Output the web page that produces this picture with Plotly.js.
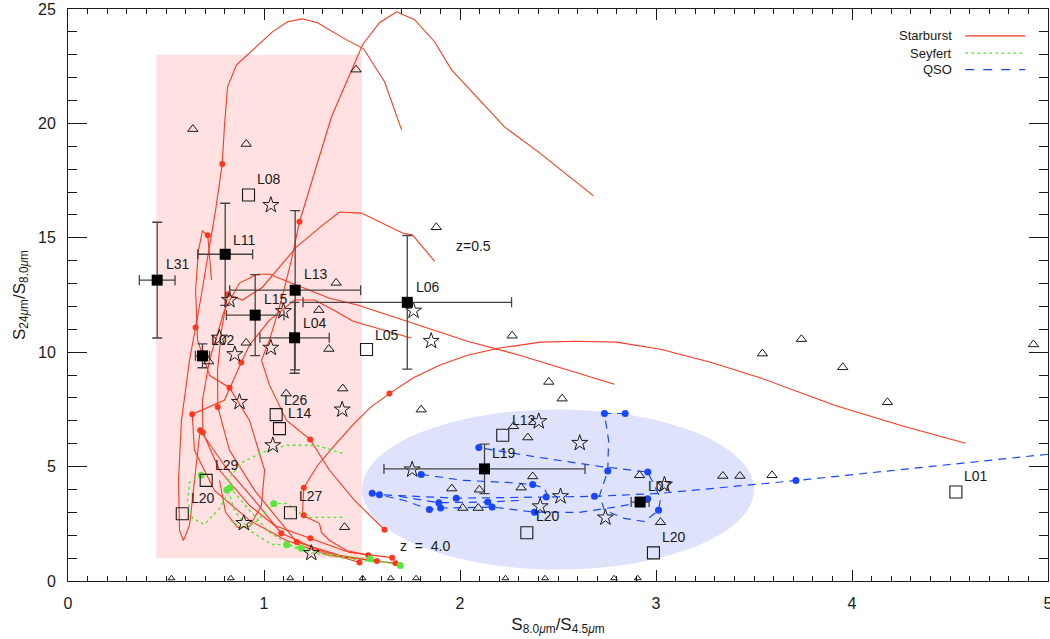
<!DOCTYPE html>
<html>
<head>
<meta charset="utf-8">
<script src="https://cdn.plot.ly/plotly-3.0.1.min.js"></script>
<style>html,body{margin:0;padding:0;background:#fff}#chart{width:1050px;height:639px}</style>
</head>
<body>
<div id="chart"></div>
<script>
// ---------------- data ----------------
// Starburst tracks (z = 0.5 -> 4.0)
const sb1X = [2.681,2.406,2.227,2.048,1.957,1.870,1.768,1.676,1.589,1.503,1.344,1.181,1.140,1.089,1.028,0.987,1.028,1.115,1.236,1.334,1.462,1.615];
const sb1Y = [16.83,18.71,19.85,21.47,22.34,23.57,24.53,24.88,24.40,23.44,20.28,15.69,14.03,12.28,10.53,9.65,8.56,7.02,6.18,4.84,3.52,2.24];
const sb2X = [1.702,1.615,1.508,1.421,1.273,1.196,1.120,1.043,0.860,0.814,0.798,0.787,0.753,0.712,0.676,0.651,0.620,0.579,0.564,0.569,0.589,0.620,0.651,0.674,0.798,0.952,1.088,1.283,1.487];
const sb2Y = [19.72,21.82,23.26,23.65,24.40,24.57,24.44,24.00,22.56,21.60,19.85,18.23,16.21,14.03,12.28,11.09,9.65,7.02,4.40,2.21,1.77,2.43,4.84,6.59,5.05,3.52,2.09,1.33,0.81];
const sb3X = [1.870,1.758,1.707,1.497,1.385,1.293,1.166,1.069,0.992,0.890,0.815,0.783,0.763,0.764,0.824,0.952,1.167,1.385,1.576];
const sb3Y = [13.98,15.12,15.21,16.08,16.13,15.51,14.60,13.59,12.84,12.28,12.53,10.96,9.21,7.61,5.71,3.96,1.70,1.12,0.87];
const sb4X = [2.788,2.304,2.038,1.742,1.477,1.334,1.196,1.028,0.967,0.875,0.798,0.722,0.686,0.688,0.773,0.926,1.054,1.237,1.436,1.654];
const sb4Y = [8.60,9.87,10.48,11.31,12.06,12.36,12.84,13.41,13.41,13.02,11.84,9.65,7.90,6.49,4.84,3.30,2.43,1.87,1.25,1.02];
const sb5X = [1.753,1.452,1.355,1.258,1.156,1.028,0.926,0.884,0.798,0.634,0.645,0.747,0.926,1.115,1.334,1.671];
const sb5Y = [10.61,11.36,11.84,12.28,12.28,11.40,10.31,9.55,7.90,7.29,5.71,3.96,2.65,1.77,1.12,0.77];
const sb6X = [4.579,4.263,3.911,3.538,3.278,3.023,2.798,2.589,2.411,2.202,2.038,1.895,1.758,1.640,1.543,1.452,1.360,1.273,1.203,1.196,1.283,1.293,1.334,1.421,1.532];
const sb6Y = [6.02,6.76,7.68,8.86,9.56,10.13,10.44,10.48,10.44,10.18,9.87,9.43,8.86,8.19,7.59,6.81,5.93,5.05,4.08,2.87,2.52,2.12,1.77,1.33,1.12];
const sb7X = [0.732,0.713,0.686,0.666,0.651,0.661,0.722,0.824,0.926,1.003,0.987,0.926,0.865,0.804,0.773];
const sb7Y = [13.15,15.11,15.30,14.46,12.71,10.53,8.99,8.45,7.02,4.84,3.30,2.39,2.34,3.00,4.40];
const sbDotX = [0.787,1.181,0.713,0.651,0.815,0.884,0.824,1.640,0.764,0.634,0.674,0.688,1.236,1.203,1.203,1.088,1.167,1.237,1.615,1.532,1.576,1.487,1.654,1.671];
const sbDotY = [18.23,15.70,15.11,11.08,12.53,9.55,8.45,8.19,7.61,7.29,6.59,6.49,6.18,4.08,2.87,2.09,1.70,1.87,2.24,1.12,0.87,0.81,1.02,0.78];

// Seyfert tracks
const sy1X = [1.400,1.268,1.115,0.992,0.890,0.824,0.814,0.849,0.926,1.038,1.116,1.190,1.360,1.542,1.695];
const sy1Y = [5.58,5.93,5.93,5.62,5.19,4.53,4.05,3.09,2.21,1.60,1.58,1.44,1.12,0.97,0.68];
const sy2X = [0.680,0.620,0.610,0.635,0.696,0.773,0.828,0.926,1.028,1.181,1.385,1.589];
const sy2Y = [4.62,4.31,3.52,2.74,2.47,3.17,4.08,3.09,2.12,1.33,1.03,0.81];
const sy3X = [1.400,1.215,1.115,1.050,0.952,0.890,0.829];
const sy3Y = [2.78,2.78,3.39,3.38,2.52,2.30,2.65];
const syDotX = [0.680,0.810,0.828,1.050,1.116,1.190,1.542,1.695];
const syDotY = [4.62,3.99,4.08,3.38,1.58,1.44,0.97,0.68];

// QSO tracks
const q1X = [5.0,3.714,3.020,2.686,2.440,1.981,1.589];
const q1Y = [5.54,4.39,3.83,3.70,3.67,3.62,3.77];
const q2X = [2.843,2.737,2.758,2.754,2.712,2.737,2.839,2.941,3.013,3.023,2.958,2.712,2.406,2.096];
const q2Y = [7.32,7.32,6.15,4.81,3.74,3.09,2.74,2.60,3.09,3.61,4.76,5.01,5.40,5.83];
const q3X = [1.802,2.013,2.237,2.371,2.431,2.446];
const q3Y = [4.66,4.40,4.31,4.22,4.05,3.74];
const q4X = [1.552,1.717,1.844,1.901,2.164,2.380,2.610,2.814,2.967];
const q4Y = [3.84,3.52,3.12,3.19,3.23,3.01,3.00,3.26,3.52];
const q5X = [1.691,1.892,2.142,2.304];
const q5Y = [3.70,3.42,3.45,3.52];
const qDotX = [2.737,2.843,2.754,2.958,2.686,2.958,3.013,2.440,2.371,2.096,1.802,1.552,1.589,1.981,1.892,1.901,1.844,2.142,2.164,2.380,3.714];
const qDotY = [7.32,7.32,4.81,4.76,3.70,3.60,3.09,3.67,4.22,5.83,4.66,3.84,3.77,3.62,3.42,3.19,3.12,3.45,3.23,3.01,4.39];

// Sources with error bars (filled squares)
const errNames = ["L31","L11","L13","L15","L04","L06","L02","L19","L07"];
const errX  = [0.455,0.802,1.159,0.955,1.156,1.731,0.686,2.125,2.919];
const errY  = [13.15,14.28,12.71,11.62,10.63,12.18,9.84,4.90,3.45];
const errXe = [0.091,0.140,0.334,0.147,0.177,0.532,0.036,0.513,0.046];
const errYe = [2.53,2.23,3.48,1.77,1.55,2.92,0.52,1.08,0.15];

// Open squares
const sqNames = ["L08","L05","L26","L14","L29","L20","L27","L12","L20","L20","L01"];
const sqX = [0.921,1.523,1.062,1.079,0.705,0.583,1.135,2.218,2.341,2.987,4.53];
const sqY = [16.87,10.12,7.27,6.66,4.40,2.94,2.98,6.37,2.11,1.23,3.89];

// Label positions (left edge, middle)
const labText = ["L31","L11","L13","L15","L04","L06","L02","L19","L07","L08","L05","L26","L14","L29","L20","L27","L12","L20","L20","L01"];
const labX = [0.492,0.833,1.193,0.991,1.188,1.763,0.718,2.154,2.950,0.952,1.555,1.093,1.113,0.739,0.616,1.167,2.253,2.375,3.021,4.56];
const labY = [13.85,14.90,13.41,12.31,11.28,12.83,10.53,5.59,4.14,17.56,10.77,7.93,7.34,5.05,3.64,3.70,7.02,2.82,1.92,4.57];

// Stars
const starX = [1.035,0.824,1.099,1.763,1.853,0.773,0.851,1.035,0.875,1.399,1.045,0.897,1.241,1.756,2.402,2.611,2.513,2.409,2.742,3.043];
const starY = [16.43,12.28,11.79,11.81,10.49,10.63,9.91,10.19,7.82,7.49,5.93,2.53,1.22,4.87,6.98,6.03,3.70,3.26,2.77,4.21];

// Triangles
const triX = [1.470,0.637,0.909,1.879,1.368,1.280,1.331,0.909,0.718,1.402,1.113,1.411,2.266,2.453,2.521,1.802,3.543,3.742,3.953,4.181,4.926,2.273,2.346,2.371,2.312,1.958,2.099,2.014,2.093,2.916,3.023,3.341,3.428,3.592];
const triY = [22.35,19.75,19.10,15.46,13.03,11.84,10.14,10.41,9.59,8.41,8.19,2.35,10.72,8.70,7.97,7.49,9.94,10.57,9.34,7.81,10.34,6.76,6.27,4.57,4.08,4.04,3.99,3.19,3.19,4.62,2.57,4.59,4.59,4.62];
const triLowX = [0.528,0.831,1.134,1.503,1.647,1.776,2.232,2.434,2.786,2.907];
const triLowY = [0.12,0.12,0.12,0.12,0.12,0.12,0.12,0.12,0.12,0.12];

// Regions
const sbRegionX = [0.45,1.5];
const sbRegionY = [1.0,23.0];
const qsoCenter = [2.5,4.0];
const qsoRadii = [1.0,3.5];

// ---------------- styling ----------------
const RED = 'rgb(255,55,30)';
const GREEN = 'rgb(90,230,60)';
const BLUE = 'rgb(25,70,255)';
const INK = '#1a1a1a';
const FONT = 'Liberation Sans, Arial, sans-serif';

const traces = [];
function line(x,y,color,dash,w){
  traces.push({x:x,y:y,type:'scatter',mode:'lines',line:{color:color,width:w,dash:dash},hoverinfo:'skip',showlegend:false});
}
[[sb1X,sb1Y],[sb2X,sb2Y],[sb3X,sb3Y],[sb4X,sb4Y],[sb5X,sb5Y],[sb6X,sb6Y],[sb7X,sb7Y]].forEach(t=>line(t[0],t[1],RED,'solid',1.1));
[[sy1X,sy1Y],[sy2X,sy2Y],[sy3X,sy3Y]].forEach(t=>line(t[0],t[1],GREEN,'dot',1.4));
[[q1X,q1Y],[q2X,q2Y],[q3X,q3Y],[q4X,q4Y],[q5X,q5Y]].forEach(t=>line(t[0],t[1],BLUE,'8px,6px',1.2));

traces.push({x:sbDotX,y:sbDotY,type:'scatter',mode:'markers',marker:{color:RED,size:6},showlegend:false});
traces.push({x:syDotX,y:syDotY,type:'scatter',mode:'markers',marker:{color:GREEN,size:7},showlegend:false});
traces.push({x:qDotX,y:qDotY,type:'scatter',mode:'markers',marker:{color:BLUE,size:7},showlegend:false});

traces.push({x:triX,y:triY,type:'scatter',mode:'markers',marker:{symbol:'triangle-up-open',size:9,color:INK,line:{width:1,color:INK}},showlegend:false});
traces.push({x:triLowX,y:triLowY,type:'scatter',mode:'markers',marker:{symbol:'triangle-up-open',size:6,color:INK,line:{width:1,color:INK}},showlegend:false});
traces.push({x:starX,y:starY,type:'scatter',mode:'markers',marker:{symbol:'star-open',size:12,color:INK,line:{width:1,color:INK}},showlegend:false});
traces.push({x:sqX,y:sqY,type:'scatter',mode:'markers',text:sqNames,marker:{symbol:'square-open',size:12,color:INK,line:{width:1.1,color:INK}},showlegend:false});
traces.push({x:errX,y:errY,type:'scatter',mode:'markers',text:errNames,
  marker:{symbol:'square',size:11,color:'#000'},
  error_x:{type:'data',array:errXe,visible:true,color:'#444',thickness:1.3,width:5},
  error_y:{type:'data',array:errYe,visible:true,color:'#444',thickness:1.3,width:5},
  showlegend:false});

const annotations = labText.map((t,i)=>({x:labX[i],y:labY[i],xref:'x',yref:'y',text:t,showarrow:false,xanchor:'left',yanchor:'middle',font:{family:FONT,size:14,color:INK}}));
annotations.push({x:2.07,y:14.64,xref:'x',yref:'y',text:'z=0.5',showarrow:false,font:{family:FONT,size:14,color:INK}});
annotations.push({x:1.819,y:1.55,xref:'x',yref:'y',text:'z  =  4.0',showarrow:false,font:{family:FONT,size:14,color:INK}});

// legend (label left, sample line right)
const legNames = ['Starburst','Seyfert','QSO'];
const legColors = [RED,GREEN,BLUE];
const legDash = ['solid','dot','dash'];
const legY = [0.953,0.923,0.894];
const shapes = [
  {type:'rect',xref:'x',yref:'y',x0:sbRegionX[0],x1:sbRegionX[1],y0:sbRegionY[0],y1:sbRegionY[1],fillcolor:'rgb(255,225,225)',line:{width:0},layer:'below'},
  {type:'circle',xref:'x',yref:'y',x0:qsoCenter[0]-qsoRadii[0],x1:qsoCenter[0]+qsoRadii[0],y0:qsoCenter[1]-qsoRadii[1],y1:qsoCenter[1]+qsoRadii[1],fillcolor:'rgb(222,226,250)',line:{width:0},layer:'below'}
];
legNames.forEach((n,i)=>{
  annotations.push({x:0.904,y:legY[i],xref:'paper',yref:'paper',text:n,showarrow:false,xanchor:'right',yanchor:'middle',font:{family:FONT,size:13,color:INK}});
  shapes.push({type:'line',xref:'paper',yref:'paper',x0:0.9155,x1:0.9767,y0:legY[i],y1:legY[i],line:{color:legColors[i],width:1.3,dash:legDash[i]}});
});

const axisCommon = {
  showline:true, linecolor:INK, linewidth:1, mirror:'allticks', ticks:'inside',
  tickcolor:INK, tickwidth:1, showgrid:false, zeroline:false,
  ticklabeloverflow:'allow',
  tickfont:{family:FONT,size:16,color:INK}
};
const layout = {
  width:1050, height:639,
  margin:{l:68,r:2,t:9,b:58},
  paper_bgcolor:'#fff', plot_bgcolor:'rgba(0,0,0,0)',
  showlegend:false,
  xaxis:Object.assign({},axisCommon,{range:[0,5],dtick:1,tick0:0,ticklen:11,
    minor:{dtick:0.1,ticklen:5,ticks:'inside',tickcolor:INK,showgrid:false},
    ticklabelstandoff:8,
    title:{text:'S<sub>8.0<i>μ</i>m</sub>/S<sub>4.5<i>μ</i>m</sub>',font:{family:FONT,size:17,color:INK},standoff:6}}),
  yaxis:Object.assign({},axisCommon,{range:[0,25],dtick:5,tick0:0,ticklen:19,
    minor:{dtick:1,ticklen:9,ticks:'inside',tickcolor:INK,showgrid:false},
    ticklabelstandoff:8,
    title:{text:'S<sub>24<i>μ</i>m</sub>/S<sub>8.0<i>μ</i>m</sub>',font:{family:FONT,size:17,color:INK},standoff:8}}),
  shapes:shapes,
  annotations:annotations
};
Plotly.newPlot('chart',traces,layout,{displayModeBar:false,staticPlot:true});
</script>
</body>
</html>
